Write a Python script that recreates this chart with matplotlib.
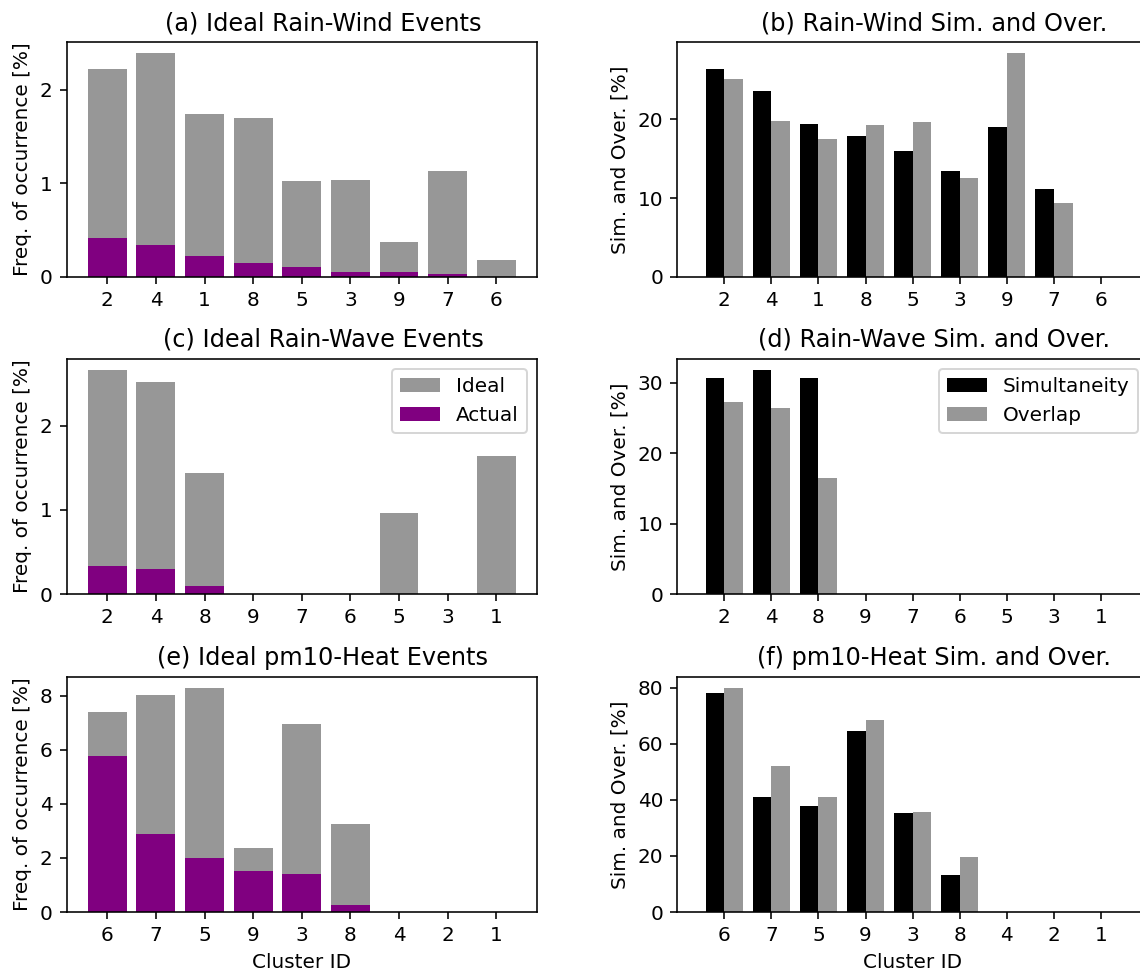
import numpy as np
import matplotlib.pyplot as plt

# cluster orderings per panel row
clusters_rw = ["2", "4", "1", "8", "5", "3", "9", "7", "6"]
clusters_rv = ["2", "4", "8", "9", "7", "6", "5", "3", "1"]
clusters_ph = ["6", "7", "5", "9", "3", "8", "4", "2", "1"]

# ideal / actual frequency of occurrence [%]
ideal_rw = [2.22, 2.39, 1.74, 1.70, 1.02, 1.04, 0.37, 1.13, 0.18]
actual_rw = [0.415, 0.34, 0.22, 0.145, 0.11, 0.055, 0.05, 0.037, 0.0]
ideal_rv = [2.66, 2.52, 1.435, 0, 0, 0, 0.966, 0, 1.638]
actual_rv = [0.338, 0.294, 0.10, 0, 0, 0, 0, 0, 0]
ideal_ph = [7.39, 8.04, 8.28, 2.35, 6.94, 3.25, 0, 0, 0]
actual_ph = [5.76, 2.89, 1.99, 1.52, 1.40, 0.25, 0, 0, 0]

# simultaneity / overlap [%]
sim_rw = [26.35, 23.55, 19.40, 17.92, 16.01, 13.47, 18.98, 11.18, 0]
over_rw = [25.08, 19.82, 17.46, 19.31, 19.61, 12.50, 28.38, 9.40, 0]
sim_rv = [30.75, 31.80, 30.71, 0, 0, 0, 0, 0, 0]
over_rv = [27.24, 26.48, 16.42, 0, 0, 0, 0, 0, 0]
sim_ph = [77.98, 40.95, 37.62, 64.64, 35.12, 13.10, 0, 0, 0]
over_ph = [79.76, 52.14, 40.95, 68.33, 35.71, 19.52, 0, 0, 0]

grey = "#979797"

DPI = 144
W, H = 1140, 973
fig = plt.figure(figsize=(W / DPI, H / DPI), dpi=DPI)

def pos(x0, y0, x1, y1):
    return [x0 / W, 1 - y1 / H, (x1 - x0) / W, (y1 - y0) / H]

rows = [(42, 277), (359, 594), (677, 912)]

left = [
    ("(a) Ideal Rain-Wind Events", clusters_rw, ideal_rw, actual_rw),
    ("(c) Ideal Rain-Wave Events", clusters_rv, ideal_rv, actual_rv),
    ("(e) Ideal pm10-Heat Events", clusters_ph, ideal_ph, actual_ph),
]
right = [
    ("(b) Rain-Wind Sim. and Over.", clusters_rw, sim_rw, over_rw),
    ("(d) Rain-Wave Sim. and Over.", clusters_rv, sim_rv, over_rv),
    ("(f) pm10-Heat Sim. and Over.", clusters_ph, sim_ph, over_ph),
]

for i, (y0, y1) in enumerate(rows):
    title, cl, ideal, actual = left[i]
    ax = fig.add_axes(pos(66.5, y0, 537, y1))
    x = np.arange(len(cl))
    ax.bar(x, ideal, width=0.8, color=grey, label="Ideal")
    ax.bar(x, actual, width=0.8, color="purple", label="Actual")
    ax.set_xticks(x)
    ax.set_xticklabels(cl)
    ax.set_title(title, x=0.545)
    ax.set_ylabel("Freq. of occurrence [%]")
    if i == 1:
        ax.legend(loc="upper right")
    if i == 2:
        ax.set_xlabel("Cluster ID")

    title, cl, sim, over = right[i]
    ax = fig.add_axes(pos(677.3, y0, 1147.8, y1))
    ax.bar(x - 0.2, sim, width=0.4, color="black", label="Simultaneity")
    ax.bar(x + 0.2, over, width=0.4, color=grey, label="Overlap")
    ax.set_xticks(x)
    ax.set_xticklabels(cl)
    ax.set_xlim(-1.0, 9.0)
    ax.set_title(title, x=0.545)
    ax.set_ylabel("Sim. and Over. [%]")
    if i == 1:
        ax.legend(loc="upper right")
    if i == 2:
        ax.set_xlabel("Cluster ID")

fig.savefig("out.png", dpi=DPI)
